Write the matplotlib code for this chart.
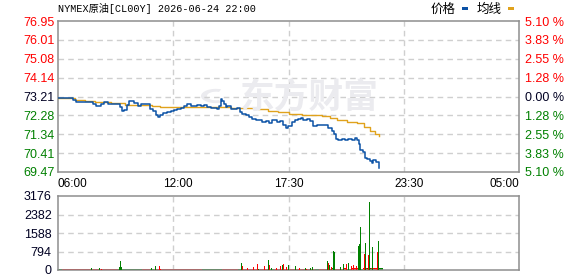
import matplotlib
matplotlib.use("Agg")
import matplotlib.pyplot as plt
from matplotlib.patches import Rectangle, Wedge

# minutes after 06:00, session runs to 05:00 next day
total_minutes = 1380
prev_close = 73.21

price_min = [0, 4, 24, 44, 54, 84, 94, 104, 114, 119,
             129, 139, 149, 169, 179, 186, 191, 198, 206, 212,
             219, 228, 239, 248, 258, 269, 275, 285, 293, 298,
             305, 313, 323, 327, 337, 347, 357, 367, 377, 387,
             397, 407, 417, 427, 437, 447, 457, 467, 475, 482,
             487, 492, 497, 502, 507, 517, 527, 537, 545, 552,
             562, 572, 582, 592, 602, 612, 622, 632, 641, 655,
             665, 674, 683, 689, 700, 709, 719, 727, 734, 744,
             754, 762, 774, 789, 802, 809, 819, 826, 831, 839,
             849, 859, 869, 879, 889, 896, 900, 904, 912, 919,
             926, 934, 939, 944, 952, 956, 960]
price_val = [73.16, 73.14, 73.14, 73.05, 72.95, 72.94, 72.92, 72.82, 72.75, 72.72,
             72.85, 72.93, 72.85, 72.86, 72.85, 72.69, 72.49, 72.56, 72.77, 73.01,
             72.98, 72.88, 72.72, 72.85, 72.85, 72.85, 72.61, 72.49, 72.28, 72.20,
             72.28, 72.39, 72.39, 72.44, 72.49, 72.56, 72.59, 72.62, 72.72, 72.82,
             72.74, 72.72, 72.77, 72.72, 72.77, 72.69, 72.65, 72.64, 72.61, 72.72,
             73.10, 72.98, 72.85, 72.69, 72.72, 72.61, 72.57, 72.65, 72.44, 72.36,
             72.28, 72.20, 72.12, 72.07, 72.03, 71.95, 72.00, 71.90, 72.03, 71.93,
             72.00, 71.80, 71.66, 71.76, 71.93, 72.05, 72.10, 72.16, 72.05, 72.08,
             72.00, 71.76, 71.80, 71.80, 71.78, 71.63, 71.50, 71.34, 71.10, 71.05,
             71.10, 71.05, 71.10, 71.05, 71.14, 71.05, 70.84, 70.56, 70.48, 70.18,
             70.11, 70.01, 69.90, 70.06, 69.98, 69.95, 69.68]

avg_min = [0, 30, 50, 80, 110, 160, 200, 280, 305, 400,
           517, 567, 600, 630, 660, 690, 730, 790, 815, 835,
           865, 895, 915, 935, 950, 960]
avg_val = [73.16, 73.13, 73.05, 73.01, 72.92, 72.88, 72.80, 72.76, 72.69, 72.69,
           72.66, 72.63, 72.58, 72.50, 72.42, 72.33, 72.27, 72.25, 72.16, 72.06,
           71.97, 71.88, 71.72, 71.50, 71.34, 71.27]

price_ticks = [69.47, 70.41, 71.34, 72.28, 73.21, 74.14, 75.08, 76.01, 76.95]
pct_labels = ["5.10 %", "3.83 %", "2.55 %", "1.28 %", "0.00 %",
              "1.28 %", "2.55 %", "3.83 %", "5.10 %"]

time_ticks = [0, 360, 690, 1050, 1380]
time_labels = ["06:00", "12:00", "17:30", "23:30", "05:00"]

vol_ticks = [0, 794, 1588, 2382, 3176]

# thin strip of small volume, one value every 12 minutes (1 = up/red)
base_min = list(range(0, 961, 12))
base_vol = [45, 40, 50, 35, 45, 40, 55, 40, 45, 50,
            40, 45, 35, 50, 45, 40, 55, 45, 40, 50,
            45, 35, 40, 50, 45, 40, 45, 55, 40, 45,
            50, 40, 45, 35, 50, 45, 40, 45, 50, 40,
            45, 55, 40, 45, 50, 40, 45, 35, 50, 45,
            40, 55, 45, 40, 50, 45, 60, 45, 50, 55,
            45, 60, 50, 55, 45, 60, 55, 50, 65, 60,
            55, 70, 60, 65, 70, 60, 75, 70, 80, 75, 70]
base_up = [0, 1, 1, 1, 1, 1, 1, 1, 1, 1,
           1, 1, 1, 1, 1, 0, 0, 0, 0, 0,
           0, 1, 1, 0, 1, 1, 1, 1, 1, 1,
           1, 1, 1, 1, 1, 1, 0, 0, 0, 0,
           0, 1, 1, 1, 1, 0, 1, 1, 1, 1,
           1, 1, 1, 0, 1, 1, 1, 1, 1, 1,
           1, 1, 1, 1, 0, 1, 1, 0, 0, 1,
           1, 1, 0, 1, 1, 0, 1, 0, 1, 1, 0]

# bigger volume bars
vol_min = [100, 124, 129, 183, 186, 189, 280, 293, 303, 306,
           485, 488, 550, 553, 568, 585, 597, 601, 617, 630,
           633, 640, 653, 665, 673, 676, 685, 690, 710, 722,
           740, 745, 755, 762, 806, 810, 814, 818, 826, 829,
           832, 835, 841, 845, 850, 854, 859, 863, 869, 874,
           879, 884, 889, 893, 899, 902, 906, 910, 913, 917,
           920, 925, 930, 933, 937, 940, 942, 946, 949, 952,
           956, 960]
vol_val = [100, 100, 60, 140, 400, 140, 70, 185, 185, 60,
           357, 80, 300, 185, 80, 140, 257, 60, 185, 443,
           230, 80, 80, 185, 230, 257, 140, 215, 185, 70,
           90, 60, 70, 140, 407, 300, 230, 110, 836, 760,
           650, 600, 450, 120, 90, 260, 550, 260, 290, 190,
           170, 220, 260, 190, 1050, 1120, 1836, 520, 523, 690,
           1150, 770, 640, 2910, 770, 500, 1000, 580, 560, 980,
           770, 1265]
vol_up = [0, 0, 1, 0, 0, 0, 0, 0, 1, 1,
          1, 1, 0, 1, 1, 1, 1, 0, 1, 0,
          1, 0, 1, 1, 0, 1, 1, 0, 0, 1,
          0, 1, 0, 0, 0, 1, 0, 1, 0, 0,
          1, 0, 1, 0, 1, 0, 0, 1, 0, 1,
          1, 1, 0, 1, 0, 0, 0, 1, 1, 1,
          0, 1, 1, 0, 1, 1, 0, 1, 0, 0,
          1, 0]

RED = "#ff0000"
GREEN = "#008000"
DARK = "#000022"
BLUE = "#0b52a6"
GOLD = "#e0a21c"
FRAME = "#8e8e8e"
GRID = "#cfcfcf"
MARK = "#ebebef"

plt.rcParams["font.family"] = ["Liberation Sans", "Noto Sans CJK SC"]

W, H = 578, 276
fig = plt.figure(figsize=(W / 100, H / 100), dpi=100)
fig.patch.set_facecolor("white")

def px_box(x0, y0, x1, y1):
    return [x0 / W, 1 - y1 / H, (x1 - x0) / W, (y1 - y0) / H]

ax = fig.add_axes(px_box(58, 21, 519, 172))
axv = fig.add_axes(px_box(58, 196, 519, 270))

for a in (ax, axv):
    a.set_xlim(0, total_minutes)
    for s in a.spines.values():
        s.set_color(FRAME)
        s.set_linewidth(1.1)
    a.tick_params(length=0)
    for gx in (total_minutes / 4, total_minutes / 2, total_minutes * 3 / 4):
        a.axvline(gx, color=GRID, lw=1, ls=(0, (4, 3)), zorder=0)

# watermark: logo swirl + name
fig.add_artist(Wedge((216 / W, 1 - 96 / H), 15 / W, 70, 290, width=6 / W,
                     transform=fig.transFigure, color=MARK, lw=0, zorder=0))
fig.text(309 / W, 1 - 97 / H, "东方财富", fontsize=25, fontweight="bold",
         color=MARK, ha="center", va="center", family="Noto Sans CJK SC", zorder=0)

# price panel
ax.patch.set_alpha(0)
ax.set_ylim(price_ticks[0], price_ticks[-1])
for p in price_ticks[1:-1]:
    ax.axhline(p, color=GRID, lw=1, ls=(0, (4, 3)), zorder=0)
ax.plot(avg_min, avg_val, color=GOLD, lw=1.0, drawstyle="steps-post", zorder=3)
ax.plot(price_min, price_val, color=BLUE, lw=1.1, drawstyle="steps-post", zorder=4)

ax.set_yticks(price_ticks)
ax.set_yticklabels([f"{p:.2f}" for p in price_ticks], fontsize=9)
ax.tick_params(axis="y", pad=2.2)
for p, lab in zip(price_ticks, ax.get_yticklabels()):
    lab.set_color(RED if p > prev_close else (GREEN if p < prev_close else DARK))

ax.set_xticks(time_ticks)
ax.set_xticklabels(time_labels, fontsize=8.5)
ax.tick_params(axis="x", pad=4)
xl = ax.get_xticklabels()
xl[0].set_ha("left")
xl[-1].set_ha("right")

axr = ax.twinx()
axr.set_ylim(price_ticks[0], price_ticks[-1])
axr.set_yticks(price_ticks)
axr.set_yticklabels(pct_labels, fontsize=9)
axr.tick_params(length=0, pad=4)
for s in axr.spines.values():
    s.set_visible(False)
for p, lab in zip(price_ticks, axr.get_yticklabels()):
    lab.set_color(RED if p > prev_close else (GREEN if p < prev_close else DARK))

# volume panel
axv.set_ylim(0, vol_ticks[-1])
for v in vol_ticks[1:-1]:
    axv.axhline(v, color=GRID, lw=1, ls=(0, (4, 3)), zorder=0)
axv.bar(base_min, base_vol, width=12, align="edge",
        color=[RED if u else GREEN for u in base_up], linewidth=0, zorder=2)
axv.bar(vol_min, vol_val, width=2.6,
        color=[RED if u else GREEN for u in vol_up], linewidth=0, zorder=3)
axv.set_xticks([])
axv.set_yticks(vol_ticks)
axv.set_yticklabels([str(v) for v in vol_ticks], fontsize=9, color=DARK)
axv.tick_params(axis="y", pad=4.5)

# title and legend
fig.text(58 / W, 1 - 9 / H, "NYMEX原油[CL00Y] 2026-06-24 22:00", fontsize=7.3,
         ha="left", va="center", color="black",
         family=["Liberation Mono", "Noto Sans CJK SC"])
fig.text(443 / W, 1 - 9 / H, "价格", fontsize=9, ha="center", va="center",
         family="Noto Sans CJK SC")
fig.text(489 / W, 1 - 9 / H, "均线", fontsize=9, ha="center", va="center",
         family="Noto Sans CJK SC")
fig.add_artist(Rectangle((462 / W, 1 - 10 / H), 6 / W, 3 / H,
                         transform=fig.transFigure, color=BLUE, lw=0))
fig.add_artist(Rectangle((508 / W, 1 - 10 / H), 6 / W, 3 / H,
                         transform=fig.transFigure, color=GOLD, lw=0))

fig.savefig("out.png", dpi=100)
